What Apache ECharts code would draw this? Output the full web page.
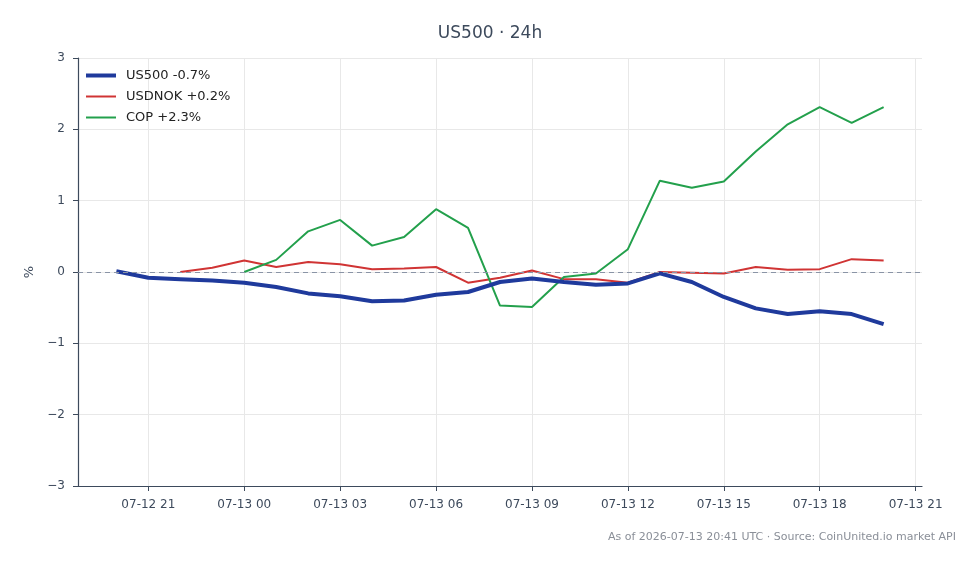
<!DOCTYPE html>
<html lang="en">
<head>
    <meta charset="UTF-8">
    <title>US500 · 24h</title>
    <script src="https://cdn.jsdelivr.net/npm/echarts@6/dist/echarts.min.js"></script>
    <style>
        html, body { margin: 0; padding: 0; background: #fff; }
    </style>
</head>
<body>
    <div id="chart" style="width: 980px; height: 564px;"></div>
    <script>
        // hours counted from 07-12 00:00 UTC
        const us500Start = 20;
        const usdnokStart = 22;
        const copStart = 24;
        const us500 = [0.01, -0.08, -0.10, -0.12, -0.15, -0.21, -0.30, -0.34, -0.41, -0.40, -0.32, -0.28,
            -0.14, -0.09, -0.14, -0.18, -0.16, -0.02, -0.14, -0.35, -0.51, -0.59, -0.55, -0.59, -0.73];
        const usdnok = [0.00, 0.06, 0.16, 0.07, 0.14, 0.11, 0.04, 0.05, 0.07, -0.15, -0.08, 0.02,
            -0.10, -0.10, -0.15, 0.00, -0.01, -0.02, 0.07, 0.03, 0.04, 0.18, 0.16];
        const cop = [0.00, 0.17, 0.57, 0.73, 0.37, 0.49, 0.88, 0.62, -0.47, -0.49, -0.07, -0.02,
            0.32, 1.28, 1.18, 1.27, 1.69, 2.07, 2.31, 2.09, 2.31];
        const seriesNames = ['US500 -0.7%', 'USDNOK +0.2%', 'COP +2.3%'];
        const xTicks = [21, 24, 27, 30, 33, 36, 39, 42, 45];
        const yTicks = [-3, -2, -1, 0, 1, 2, 3];

        const toPairs = (start, arr) => arr.map((v, i) => [start + i, v]);
        const pad = n => (n < 10 ? '0' : '') + n;
        const hourLabel = h => {
            const day = 12 + Math.floor(h / 24);
            return '07-' + pad(day) + ' ' + pad(h % 24);
        };

        const chart = echarts.init(document.getElementById('chart'));
        const axisColor = '#3d4a5c';
        const legendText = { color: '#222', fontSize: 13, fontFamily: 'DejaVu Sans', padding: [0, 0, 0, 5] };
        // one legend per series so the key lines can have different thickness
        const makeLegend = (name, top, h) => ({
            orient: 'vertical',
            left: 81,
            top: top,
            icon: 'rect',
            itemWidth: 30,
            itemHeight: h,
            textStyle: legendText,
            data: [name]
        });
        const option = {
            animation: false,
            title: [
                {
                    text: 'US500 · 24h',
                    left: 'center',
                    top: 20,
                    textStyle: { color: axisColor, fontSize: 17, fontWeight: 'normal', fontFamily: 'DejaVu Sans' }
                },
                {
                    text: 'As of 2026-07-13 20:41 UTC · Source: CoinUnited.io market API',
                    right: 19,
                    top: 527,
                    textStyle: { color: '#8a8f98', fontSize: 11, fontWeight: 'normal', fontFamily: 'DejaVu Sans' }
                }
            ],
            legend: [
                makeLegend(seriesNames[0], 64, 4),
                makeLegend(seriesNames[1], 85, 2),
                makeLegend(seriesNames[2], 106, 2)
            ],
            grid: { left: 78, right: 58, top: 58, bottom: 78 },
            xAxis: {
                type: 'value',
                min: 18.8,
                max: 45.2,
                axisLine: { onZero: false, lineStyle: { color: axisColor, width: 1.2 } },
                axisTick: { show: true, customValues: xTicks, length: 5, lineStyle: { color: axisColor } },
                axisLabel: {
                    customValues: xTicks,
                    color: axisColor,
                    fontSize: 12,
                    margin: 13,
                    fontFamily: 'DejaVu Sans',
                    formatter: v => hourLabel(v)
                },
                splitLine: { show: true, lineStyle: { color: '#e8e8e8', width: 1 } }
            },
            yAxis: {
                type: 'value',
                min: -3,
                max: 3,
                interval: 1,
                name: '%',
                nameLocation: 'middle',
                nameGap: 42,
                nameRotate: 90,
                nameTextStyle: { color: axisColor, fontSize: 13, fontFamily: 'DejaVu Sans' },
                axisLine: { show: true, lineStyle: { color: axisColor, width: 1.2 } },
                axisTick: { show: true, length: 5, lineStyle: { color: axisColor } },
                axisLabel: {
                    customValues: yTicks,
                    color: axisColor,
                    fontSize: 12,
                    margin: 13,
                    fontFamily: 'DejaVu Sans',
                    formatter: v => (v < 0 ? '\u2212' + (-v) : String(v))
                },
                splitLine: { show: true, lineStyle: { color: '#e8e8e8', width: 1 } }
            },
            series: [
                {
                    name: seriesNames[0],
                    type: 'line',
                    data: toPairs(us500Start, us500),
                    symbol: 'none',
                    color: '#1f3a9c',
                    lineStyle: { width: 4 },
                    z: 4,
                    markLine: {
                        silent: true,
                        symbol: 'none',
                        label: { show: false },
                        lineStyle: { color: '#8a94a6', type: [5, 4], width: 1 },
                        data: [{ yAxis: 0 }]
                    }
                },
                {
                    name: seriesNames[1],
                    type: 'line',
                    data: toPairs(usdnokStart, usdnok),
                    symbol: 'none',
                    color: '#d03434',
                    lineStyle: { width: 2 },
                    z: 3
                },
                {
                    name: seriesNames[2],
                    type: 'line',
                    data: toPairs(copStart, cop),
                    symbol: 'none',
                    color: '#23a04c',
                    lineStyle: { width: 2 },
                    z: 3
                }
            ]
        };
        chart.setOption(option);
    </script>
</body>
</html>
